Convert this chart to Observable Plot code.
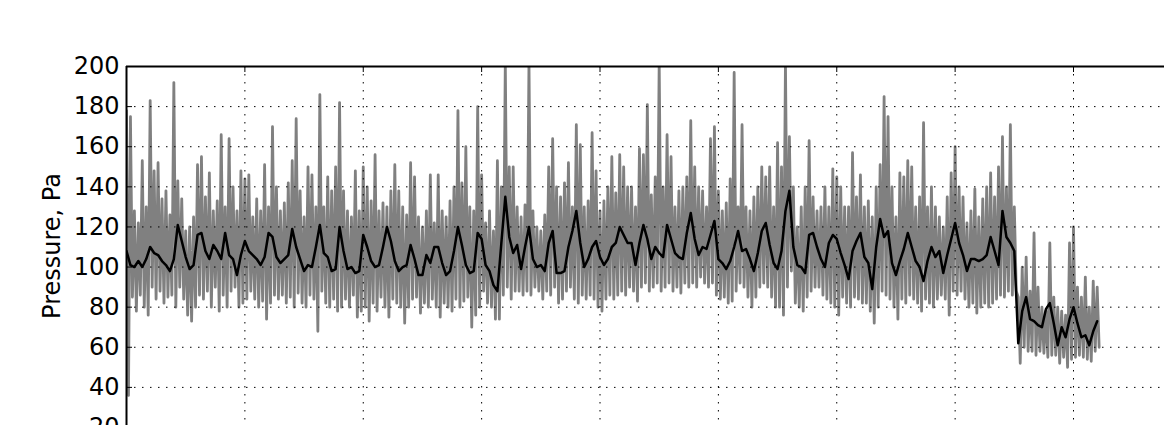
<!DOCTYPE html>
<html><head><meta charset="utf-8">
<script src="https://cdn.jsdelivr.net/npm/d3@7"></script>
<script src="https://cdn.jsdelivr.net/npm/@observablehq/plot@0.6"></script>
<style>html,body{margin:0;padding:0;background:#fff;overflow:hidden}</style>
</head><body><div id="chart"></div>
<script>
// samples per x-grid unit
const rawPerUnit = 60;
const smoothPerUnit = 30;

// raw pressure (grey), one row per grid interval
const rawPressure = [
 178,36,175,85,128,78,122,86,153,80,130,76,183,90,148,84,152,88,134,82,138,85,126,86,192,80,143,90,134,84,118,76,120,73,125,80,151,86,155,84,135,88,147,80,128,90,133,78,166,86,130,80,164,88,140,90,128,80,148,82,
 144,84,146,88,125,84,134,80,128,83,151,74,130,82,170,86,140,84,128,86,132,82,142,85,153,80,174,87,138,82,125,80,150,86,146,84,130,68,186,88,130,82,145,80,138,84,150,78,182,80,138,84,128,80,125,86,148,75,128,78,
 150,80,140,73,133,82,156,78,128,85,132,80,130,75,138,84,151,82,138,80,130,72,126,80,152,84,145,85,125,77,120,82,128,80,146,84,122,80,146,75,128,82,125,80,133,78,140,84,178,80,142,83,160,85,130,70,128,76,180,80,
 146,88,122,82,128,80,118,74,153,74,140,86,202,90,150,84,150,88,130,88,125,86,131,88,202,86,128,90,120,88,118,84,126,88,150,86,164,90,140,82,135,84,142,88,152,90,130,84,171,82,161,86,130,84,133,86,167,84,148,80,
 128,78,133,84,140,86,155,84,137,86,156,88,150,86,140,90,140,88,130,83,159,90,156,92,181,88,136,90,145,92,202,88,140,90,166,92,155,88,130,90,138,87,140,92,145,90,173,92,150,90,140,95,138,92,130,90,164,92,170,86,
 138,84,128,85,132,82,144,83,197,88,130,92,171,90,130,85,128,80,135,85,140,90,150,92,145,90,150,85,130,80,162,80,150,76,202,90,165,98,140,82,120,80,130,78,140,85,163,88,135,90,128,90,130,86,140,84,130,82,149,80,
 145,76,140,85,130,82,130,80,157,85,135,84,146,82,130,82,133,78,125,72,140,80,151,88,185,86,175,84,140,80,125,74,147,84,145,82,153,86,150,84,130,82,135,78,172,84,130,82,140,80,130,84,125,86,120,84,135,76,147,88,
 160,86,140,88,135,84,122,80,128,82,139,77,125,80,134,82,140,80,147,82,135,84,150,86,165,85,140,88,171,86,130,88,85,52,100,60,105,58,88,58,117,56,90,58,80,57,78,55,112,56,85,56,80,52,78,55,76,50,112,54,
 120,55,90,56,85,55,95,54,80,53,93,58,90,60
];

// smoothed pressure (black), one row per grid interval
const smoothPressure = [
 108,101,100,103,100,104,110,107,106,103,101,98,104,121,113,105,99,101,116,117,108,104,111,108,104,117,106,104,96,106,
 113,108,106,104,101,105,117,115,105,102,104,106,119,110,104,98,101,100,110,121,107,105,98,99,120,108,99,100,97,98,
 116,110,103,100,101,110,120,113,103,98,100,101,111,104,96,96,106,102,110,110,102,96,98,108,120,111,101,97,98,117,
 114,101,98,91,88,112,135,115,107,111,99,110,120,104,100,101,98,112,118,97,97,98,110,118,128,112,100,104,110,113,
 105,101,104,110,112,120,116,112,112,101,112,121,114,104,110,107,105,121,114,107,105,104,117,127,114,106,110,109,116,123,
 104,102,99,103,110,118,108,109,104,98,107,118,122,111,102,99,108,128,138,110,101,100,97,116,117,110,104,100,112,116,
 114,107,101,94,108,113,117,105,102,89,110,124,115,118,102,96,103,109,117,110,103,100,93,103,110,105,108,97,106,114,
 122,112,106,98,104,104,103,104,106,115,108,101,128,115,112,108,62,78,85,74,73,71,70,79,82,72,61,70,65,74,
 80,72,65,66,61,68,73
];

const yTicks = [20, 40, 60, 80, 100, 120, 140, 160, 180, 200];
const xTicks = [0, 1, 2, 3, 4, 5, 6, 7, 8];
const yLabel = "Pressure, Pa";

const raw = rawPressure.map((p, i) => ({t: i / rawPerUnit, p}));
const smooth = smoothPressure.map((p, i) => ({t: i / smoothPerUnit, p}));

const W = 1164, H = 425, ML = 126, MT = 66, UNIT = 118.375;
const dotted = {stroke: "black", strokeOpacity: 1, strokeWidth: 1, strokeDasharray: "1.5,6.5"};

const chart = Plot.plot({
  width: W, height: H,
  marginLeft: ML, marginTop: MT, marginRight: 0, marginBottom: 0,
  style: {fontFamily: "DejaVu Sans", fontSize: "24px", background: "white", color: "black", overflow: "hidden"},
  x: {domain: [0, 9], range: [ML, ML + 9 * UNIT], axis: null},
  y: {domain: [20, 200], range: [427, MT], axis: null},
  marks: [
    Plot.line(raw, {x: "t", y: "p", stroke: "#808080", strokeWidth: 2.8, strokeLinejoin: "round", clip: true}),
    Plot.line(smooth, {x: "t", y: "p", stroke: "black", strokeWidth: 2.5, clip: true}),
    Plot.gridY(yTicks.slice(1, -1), dotted),
    Plot.gridX(xTicks.slice(1), dotted),
    Plot.tickY(yTicks, {y: d => d, stroke: "black", strokeWidth: 1, insetRight: W - ML - 6}),
    Plot.tickX(xTicks, {x: d => d, stroke: "black", strokeWidth: 1, insetBottom: H - MT - 6}),
    Plot.ruleY([200], {stroke: "black", strokeWidth: 2}),
    Plot.ruleX([0], {stroke: "black", strokeWidth: 2}),
    Plot.axisY(yTicks, {tickSize: 0, tickPadding: 7, fontSize: 24, label: null}),
    Plot.text([yLabel], {text: d => d, frameAnchor: "left", textAnchor: "middle", rotate: -90, dx: -74, fontSize: 24, fill: "black"})
  ]
});
document.getElementById("chart").appendChild(chart);
</script>
</body></html>
